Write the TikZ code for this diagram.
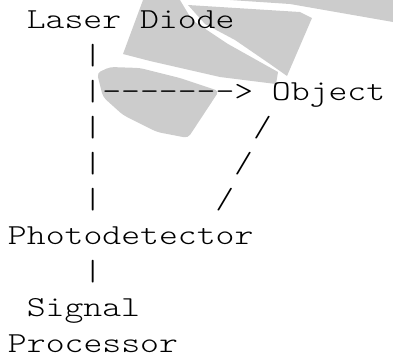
\documentclass[tikz,border=0pt]{standalone}
\usepackage{fontspec}
\newfontfamily\asciifont{lmmonolt10-regular.otf}[FakeStretch=1.24]
\usepackage{tikz}
\usetikzlibrary{positioning}
\tikzset{
  ascii/.style={anchor=base west, inner sep=0pt, outer sep=0pt,
                font=\asciifont\fontsize{29}{36}\selectfont},
  wmark/.style={fill=gray!40, draw=none},
}

\begin{document}
\begin{tikzpicture}[x=18.85pt, y=-36.05pt]
  \useasboundingbox (-8pt,28.5pt) rectangle (385pt,-331.5pt);

  % watermark behind the text
  \begin{scope}[shift={(-8pt,28.5pt)}, x=1pt, y=-1pt]
    \fill[wmark] (143,0) -- (180,0) -- (192,20) -- (228,44) -- (278,72)
                 -- (276,84) -- (220,77) -- (150,61) -- (123,54) -- cycle;
    \fill[wmark] (188,5) -- (300,12) -- (312,18) -- (287,76) -- (270,64)
                 -- (235,40) -- (205,24) -- cycle;
    \fill[wmark] (230,0) -- (393,0) -- (393,22) -- (290,4) -- cycle;
    \fill[wmark, rounded corners=4pt] (97,73) -- (110,67) -- (140,68)
                 -- (180,78) -- (219,91) -- (188,138) -- (157,132)
                 -- (123,115) -- (103,97) -- cycle;
  \end{scope}

  \node[ascii] (laser) at (1,0)  {Laser Diode};
  \node[ascii] (bar1)  at (4,1)  {|};
  \node[ascii] (beam)  at (4,2)  {|-{}-{}-{}-{}-{}-{}->};
  \node[ascii] (obj)   at (14,2) {Object};
  \node[ascii] (bar2)  at (4,3)  {|};
  \node[ascii] (ref1)  at (13,3) {/};
  \node[ascii] (bar3)  at (4,4)  {|};
  \node[ascii] (ref2)  at (12,4) {/};
  \node[ascii] (bar4)  at (4,5)  {|};
  \node[ascii] (ref3)  at (11,5) {/};
  \node[ascii] (photo) at (0,6)  {Photodetector};
  \node[ascii] (bar5)  at (4,7)  {|};
  \node[ascii] (sig)   at (1,8)  {Signal};
  \node[ascii] (proc)  at (0,9)  {Processor};
\end{tikzpicture}
\end{document}
